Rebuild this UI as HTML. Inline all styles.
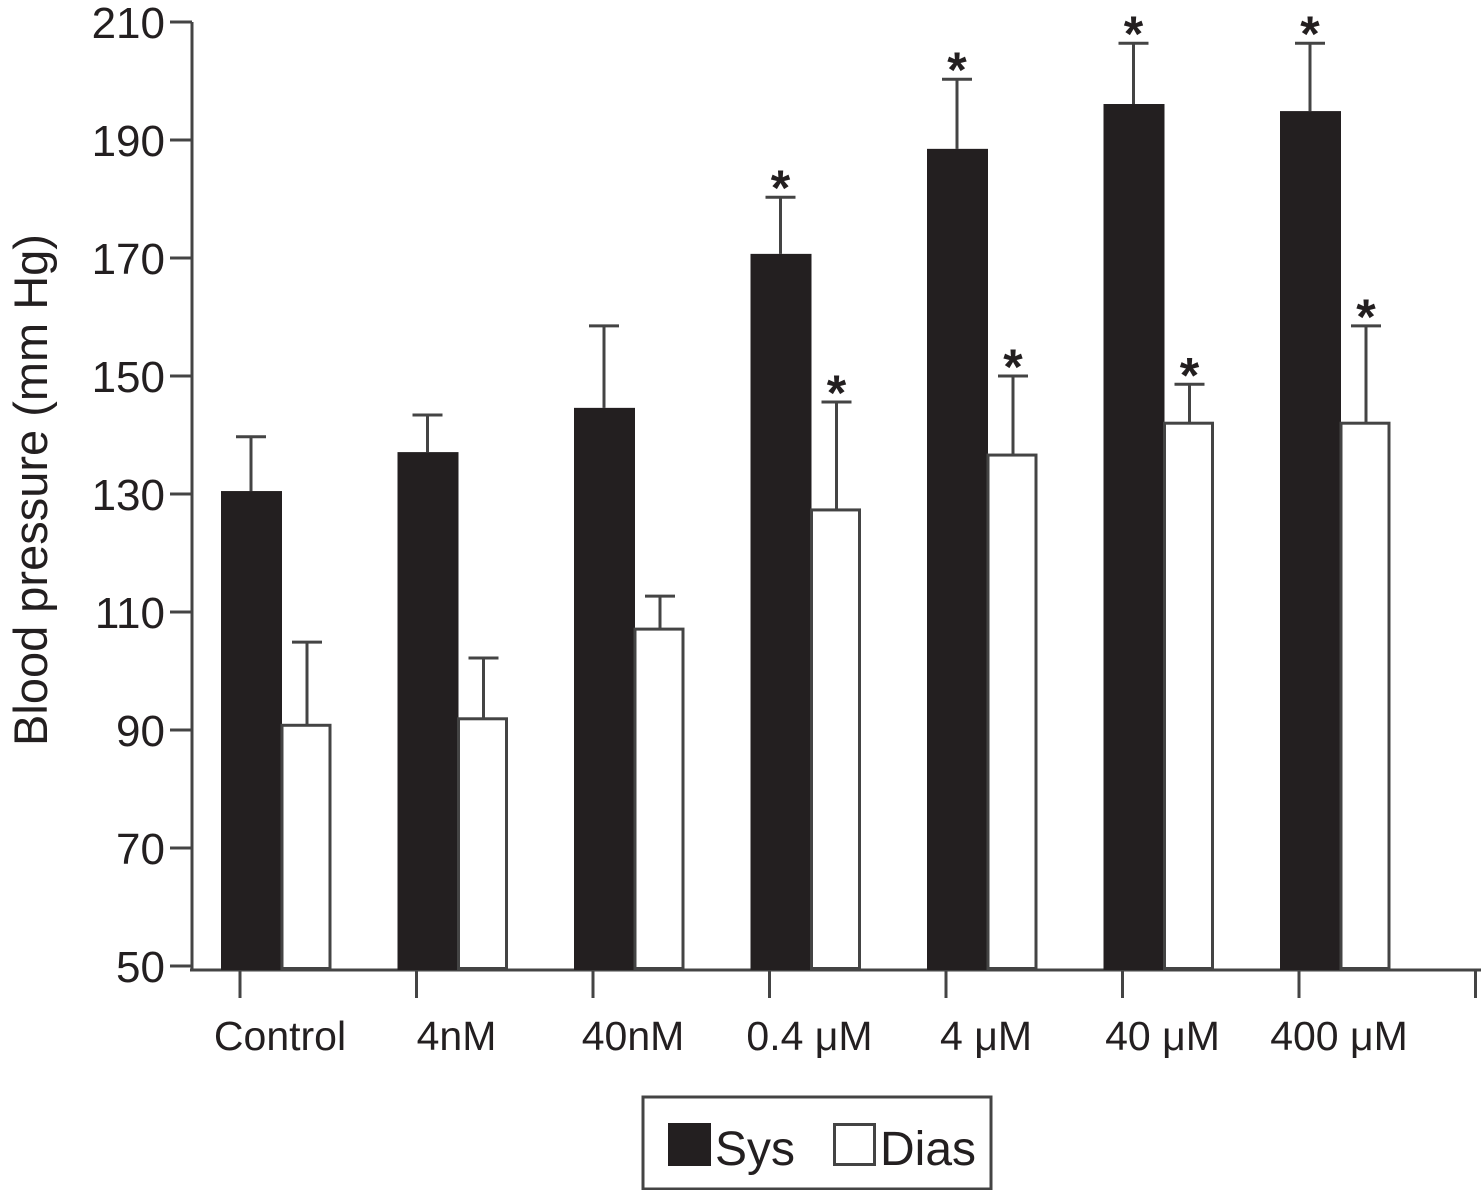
<!DOCTYPE html>
<html><head><meta charset="utf-8"><style>
body{margin:0;background:#fff;}
svg text{font-family:"Liberation Sans",sans-serif;fill:#231f20;}
</style></head><body>
<svg id="chart" width="1483" height="1190" xmlns="http://www.w3.org/2000/svg"></svg>
<script>
const categories=["Control","4nM","40nM","0.4 μM","4 μM","40 μM","400 μM"];
const sysValues=[130.5,137.1,144.6,170.7,188.5,196.1,194.9];
const sysErrTop=[139.7,143.4,158.5,180.3,200.3,206.4,206.4];
const diasValues=[90.8,91.9,107.1,127.3,136.6,142,142];
const diasErrTop=[104.9,102.2,112.7,145.6,150,148.6,158.5];
const sysStar=[false,false,false,true,true,true,true];
const diasStar=[false,false,false,true,true,true,true];
const yTicks=[50,70,90,110,130,150,170,190,210];
const NS="http://www.w3.org/2000/svg";
const svg=document.getElementById('chart');
const C="#231f20", G="#444";
function y(v){return 966-(v-50)*944/160;}
function x(i){return 240+i*176.5;}
function mk(t,a,txt){const e=document.createElementNS(NS,t);for(const k in a)e.setAttribute(k,a[k]);if(txt!==undefined)e.textContent=txt;svg.appendChild(e);return e;}
let e=mk('line',{x1:192,y1:y(210),x2:192,y2:970,stroke:G,'stroke-width':3});


e=mk('line',{x1:190,y1:970,x2:1481,y2:970,stroke:G,'stroke-width':3});


yTicks.forEach(v=>{
  let t=mk('line',{x1:170,y1:y(v),x2:192,y2:y(v),stroke:G,'stroke-width':3});
  
  
  let l=mk('text',{x:165,y:y(v)+16,'font-size':44,'text-anchor':'end'},v);
  
  
});
for(let i=0;i<=categories.length;i++){
  let t=mk('line',{x1:x(i),y1:970,x2:x(i),y2:998,stroke:G,'stroke-width':3});
  
  
}
categories.forEach((c,i)=>{
  let l=mk('text',{x:x(i)+40,y:1050,'font-size':41,'text-anchor':'middle'},c);
  
  
  const sx=x(i)-19, dx=sx+61;
  let el=mk('line',{x1:sx+30,y1:y(sysErrTop[i]),x2:sx+30,y2:y(sysValues[i]),stroke:G,'stroke-width':3});
  
  
  el=mk('line',{x1:sx+15,y1:y(sysErrTop[i]),x2:sx+45,y2:y(sysErrTop[i]),stroke:G,'stroke-width':3});
  
  
  let b=mk('rect',{x:sx,y:y(sysValues[i]),width:61,height:970-y(sysValues[i]),fill:C});
  
  
  el=mk('line',{x1:dx+25,y1:y(diasErrTop[i]),x2:dx+25,y2:y(diasValues[i]),stroke:G,'stroke-width':3});
  
  
  el=mk('line',{x1:dx+10,y1:y(diasErrTop[i]),x2:dx+40,y2:y(diasErrTop[i]),stroke:G,'stroke-width':3});
  
  
  b=mk('rect',{x:dx,y:y(diasValues[i]),width:48,height:968.5-y(diasValues[i]),fill:'#fff',stroke:G,'stroke-width':3});
  
  
  if(sysStar[i]){let s=mk('text',{x:sx+30,y:y(sysErrTop[i])+8,'font-size':50,'font-weight':'bold','text-anchor':'middle'},'*');
    
    }
  if(diasStar[i]){let s=mk('text',{x:dx+25,y:y(diasErrTop[i])+8,'font-size':50,'font-weight':'bold','text-anchor':'middle'},'*');
    
    }
});
let yt=mk('text',{x:0,y:0,'font-size':47,'text-anchor':'middle',transform:'translate(47,490) rotate(-90)'},'Blood pressure (mm Hg)');


let lg=mk('rect',{x:643,y:1097,width:348,height:92,fill:'#fff',stroke:G,'stroke-width':3});


let s1=mk('rect',{x:668,y:1123,width:43,height:43,fill:C});


let t1=mk('text',{x:715,y:1165,'font-size':48},'Sys');


let s2=mk('rect',{x:834.5,y:1124.5,width:40,height:40,fill:'#fff',stroke:G,'stroke-width':3});


let t2=mk('text',{x:880,y:1165,'font-size':48},'Dias');


</script>
</body></html>
